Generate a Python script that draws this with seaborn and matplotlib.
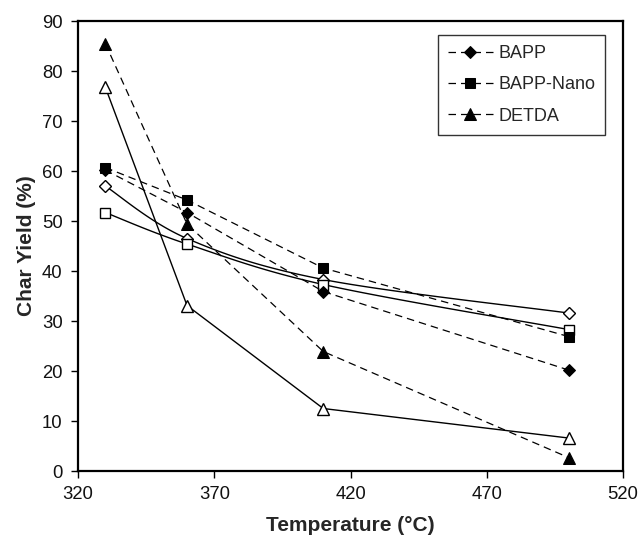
import numpy as np
import pandas as pd
import matplotlib
matplotlib.use("Agg")
import matplotlib.pyplot as plt
import seaborn as sns

# Temperatures (°C) at which char yield was measured
temperature = [330, 360, 410, 500]

# Measured char yields (%) - filled markers, dashed lines
bapp = [60.2, 51.7, 35.9, 20.2]
bapp_nano = [60.7, 54.2, 40.6, 26.9]
detda = [85.5, 49.4, 23.9, 2.7]

# Companion series - open markers, solid lines
bapp_open = [57.0, 46.5, 38.3, 31.6]
bapp_nano_open = [51.7, 45.4, 37.3, 28.3]
detda_open = [76.8, 33.1, 12.5, 6.6]

x_ticks = [320, 370, 420, 470, 520]
y_ticks = [0, 10, 20, 30, 40, 50, 60, 70, 80, 90]

sns.set_theme(style="white")
plt.rcParams["font.family"] = ["Liberation Sans", "DejaVu Sans"]

fig = plt.figure(figsize=(6.38, 5.35), dpi=100)
ax = fig.add_axes([0.1223, 0.1196, 0.8542, 0.8411])


def smooth(xs, ys, n=40):
    """Catmull-Rom style Bezier smoothing through the given points."""
    xs = np.asarray(xs, float)
    ys = np.asarray(ys, float)
    px = np.concatenate([[xs[0]], xs, [xs[-1]]])
    py = np.concatenate([[ys[0]], ys, [ys[-1]]])
    out_x, out_y = [], []
    t = np.linspace(0, 1, n)
    for i in range(1, len(px) - 2):
        p0 = np.array([px[i], py[i]])
        p3 = np.array([px[i + 1], py[i + 1]])
        c1 = p0 + (np.array([px[i + 1], py[i + 1]]) - np.array([px[i - 1], py[i - 1]])) / 6
        c2 = p3 - (np.array([px[i + 2], py[i + 2]]) - np.array([px[i], py[i]])) / 6
        b = ((1 - t) ** 3)[:, None] * p0 + (3 * (1 - t) ** 2 * t)[:, None] * c1 \
            + (3 * (1 - t) * t ** 2)[:, None] * c2 + (t ** 3)[:, None] * p3
        out_x.extend(b[:, 0])
        out_y.extend(b[:, 1])
    return np.array(out_x), np.array(out_y)


# Open-marker series: solid lines (gently smoothed for the two BAPP curves)
open_series = [(bapp_open, "D", 6, True), (bapp_nano_open, "s", 7, True),
               (detda_open, "^", 8, False)]
for vals, mk, ms, curved in open_series:
    if curved:
        sx, sy = smooth(temperature, vals)
    else:
        sx, sy = np.asarray(temperature, float), np.asarray(vals, float)
    sns.lineplot(x=sx, y=sy, ax=ax, color="black", lw=1.0, sort=False,
                 estimator=None, legend=False)
    ax.plot(temperature, vals, linestyle="none", marker=mk, markersize=ms,
            markerfacecolor="white", markeredgecolor="black", markeredgewidth=1.0,
            zorder=4)

# Filled-marker series: dashed straight lines
df = pd.DataFrame({
    "Temperature": temperature * 3,
    "Yield": bapp + bapp_nano + detda,
    "Series": ["BAPP"] * 4 + ["BAPP-Nano"] * 4 + ["DETDA"] * 4,
})
handles = []
for name, mk, ms in [("BAPP", "D", 6), ("BAPP-Nano", "s", 7), ("DETDA", "^", 8.5)]:
    sub = df[df["Series"] == name]
    sns.lineplot(data=sub, x="Temperature", y="Yield", ax=ax, color="black",
                 lw=0.9, dashes=False, legend=False)
    line = ax.lines[-1]
    line.set_linestyle((0, (6, 4)))
    line.set_marker(mk)
    line.set_markersize(ms)
    line.set_markerfacecolor("black")
    line.set_markeredgecolor("black")
    line.set_label(name)
    line.set_zorder(5)
    handles.append(line)

ax.set_xlim(320, 520)
ax.set_ylim(0, 90)
ax.set_xticks(x_ticks)
ax.set_yticks(y_ticks)
ax.tick_params(axis="both", which="major", labelsize=13.3, direction="out",
               length=5, width=1, color="black", bottom=True, left=True,
               labelcolor="#111111", pad=6)
for side in ["left", "bottom", "right", "top"]:
    ax.spines[side].set_color("black")
    ax.spines[side].set_linewidth(1.6)

ax.set_xlabel("Temperature (°C)", fontsize=15, fontweight="bold", labelpad=9)
ax.set_ylabel("Char Yield (%)", fontsize=15, fontweight="bold", labelpad=4)

leg = ax.legend(handles=handles, loc="upper right", bbox_to_anchor=(0.967, 0.969),
                fontsize=13, frameon=True, fancybox=False, handlelength=2.5,
                borderpad=0.55, labelspacing=0.8, handletextpad=0.3,
                borderaxespad=0)
leg.get_frame().set_edgecolor("black")
leg.get_frame().set_linewidth(1.0)

fig.savefig("out.png", dpi=100)
